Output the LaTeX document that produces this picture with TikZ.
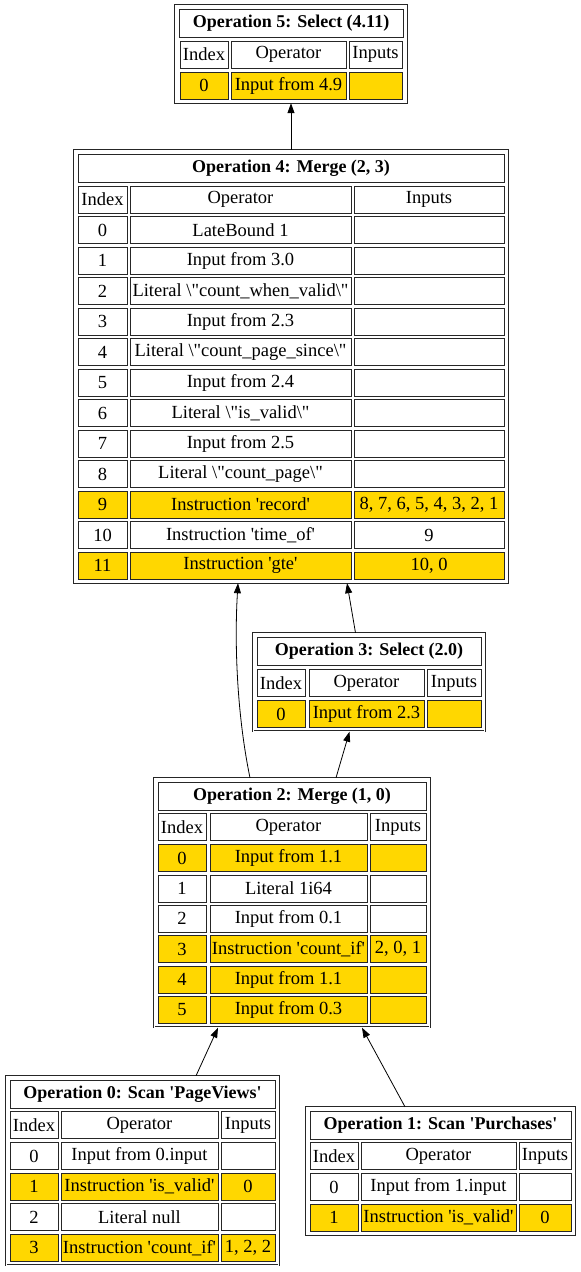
\documentclass[tikz,border=0pt]{standalone}
\usepackage{fontspec}
\setmainfont{Liberation Serif}[Ligatures=TeXOff]
\newfontfamily\opfont{Liberation Serif}[Ligatures=TeXOff]
\usepackage{xcolor}
\usetikzlibrary{fit,arrows.meta}
\definecolor{opgold}{HTML}{FFD700}

\begin{document}
\begin{tikzpicture}[x=1pt,y=-1pt,
    cell/.style={shape=rectangle, draw=black!85, line width=0.8pt, inner sep=0pt, minimum height=27pt, fill=white, font=\opfont\fontsize{18.5pt}{20pt}\selectfont},
    optitle/.style={cell, minimum height=28pt, font=\opfont\fontsize{18pt}{20pt}\selectfont\bfseries},
    opframe/.style={shape=rectangle, draw=black!85, double, double distance=0.9pt, line width=0.6pt, inner sep=3.5pt},
    flow/.style={line width=0.8pt, -{Triangle[length=10pt,width=7pt]}}]
    \useasboundingbox (0,0) rectangle (581,1272);

    % Operation 5
    \node[optitle, minimum width=224pt] (op5t) at (291,23) {Operation 5: Select (4.11)};
    \node[cell, minimum width=48pt] (op5hx) at (204,54.5) {Index};
    \node[cell, minimum width=115pt] (op5ho) at (288.5,54.5) {Operator};
    \node[cell, minimum width=53pt] (op5hn) at (375.5,54.5) {Inputs};
    \node[cell, fill=opgold, minimum width=48pt] (op5x0) at (204,85.5) {0};
    \node[cell, fill=opgold, minimum width=115pt] (op5o0) at (288.5,85.5) {Input from 4.9};
    \node[cell, fill=opgold, minimum width=53pt] (op5n0) at (375.5,85.5) {};
    \node[opframe, fit=(op5t)(op5x0)(op5n0)] (op5) {};

    % Operation 4
    \node[optitle, minimum width=426pt] (op4t) at (291,168) {Operation 4: Merge (2, 3)};
    \node[cell, minimum width=49pt] (op4hx) at (102.5,199.5) {Index};
    \node[cell, minimum width=221pt] (op4ho) at (240.5,199.5) {Operator};
    \node[cell, minimum width=150pt] (op4hn) at (429,199.5) {Inputs};
    \foreach \i/\op/\inp/\fc in {0/LateBound 1//white, 1/Input from 3.0//white,
        2/Literal \textbackslash"count\_when\_valid\textbackslash"//white, 3/Input from 2.3//white,
        4/Literal \textbackslash"count\_page\_since\textbackslash"//white, 5/Input from 2.4//white,
        6/Literal \textbackslash"is\_valid\textbackslash"//white, 7/Input from 2.5//white,
        8/Literal \textbackslash"count\_page\textbackslash"//white,
        9/Instruction 'record'/{8, 7, 6, 5, 4, 3, 2, 1}/opgold,
        10/Instruction 'time\_of'/9/white, 11/Instruction 'gte'/{10, 0}/opgold}{
      \node[cell, fill=\fc, minimum width=49pt] (op4x\i) at (102.5,{230+30.5*\i}) {\i};
      \node[cell, fill=\fc, minimum width=221pt] (op4o\i) at (240.5,{230+30.5*\i}) {\op};
      \node[cell, fill=\fc, minimum width=150pt] (op4n\i) at (429,{230+30.5*\i}) {\inp};
    }
    \node[opframe, fit=(op4t)(op4x11)(op4n11)] (op4) {};

    % Operation 3
    \node[optitle, minimum width=224pt] (op3t) at (369,651) {Operation 3: Select (2.0)};
    \node[cell, minimum width=48pt] (op3hx) at (281,683) {Index};
    \node[cell, minimum width=115pt] (op3ho) at (366.5,683) {Operator};
    \node[cell, minimum width=54pt] (op3hn) at (454,683) {Inputs};
    \node[cell, fill=opgold, minimum width=48pt] (op3x0) at (281,714) {0};
    \node[cell, fill=opgold, minimum width=115pt] (op3o0) at (366.5,714) {Input from 2.3};
    \node[cell, fill=opgold, minimum width=54pt] (op3n0) at (454,714) {};
    \node[opframe, fit=(op3t)(op3x0)(op3n0)] (op3) {};

    % Operation 2
    \node[optitle, minimum width=268pt] (op2t) at (292,796) {Operation 2: Merge (1, 0)};
    \node[cell, minimum width=48pt] (op2hx) at (182,827) {Index};
    \node[cell, minimum width=157pt] (op2ho) at (288.5,827) {Operator};
    \node[cell, minimum width=56pt] (op2hn) at (398,827) {Inputs};
    \foreach \i/\op/\inp/\fc in {0/Input from 1.1//opgold, 1/Literal 1i64//white,
        2/Input from 0.1//white, 3/Instruction 'count\_if'/{2, 0, 1}/opgold,
        4/Input from 1.1//opgold, 5/Input from 0.3//opgold}{
      \node[cell, fill=\fc, minimum width=48pt] (op2x\i) at (182,{858+30.4*\i}) {\i};
      \node[cell, fill=\fc, minimum width=157pt] (op2o\i) at (288.5,{858+30.4*\i}) {\op};
      \node[cell, fill=\fc, minimum width=56pt] (op2n\i) at (398,{858+30.4*\i}) {\inp};
    }
    \node[opframe, fit=(op2t)(op2x5)(op2n5)] (op2) {};

    % Operation 0
    \node[optitle, minimum width=265pt] (op0t) at (142.5,1094) {Operation 0: Scan 'PageViews'};
    \node[cell, minimum width=48pt] (op0hx) at (34,1125) {Index};
    \node[cell, minimum width=157pt] (op0ho) at (139.5,1125) {Operator};
    \node[cell, minimum width=54pt] (op0hn) at (248,1125) {Inputs};
    \foreach \i/\op/\inp/\fc in {0/Input from 0.input//white, 1/Instruction 'is\_valid'/0/opgold,
        2/Literal null//white, 3/Instruction 'count\_if'/{1, 2, 2}/opgold}{
      \node[cell, fill=\fc, minimum width=48pt] (op0x\i) at (34,{1156+30.6*\i}) {\i};
      \node[cell, fill=\fc, minimum width=157pt] (op0o\i) at (139.5,{1156+30.6*\i}) {\op};
      \node[cell, fill=\fc, minimum width=54pt] (op0n\i) at (248,{1156+30.6*\i}) {\inp};
    }
    \node[opframe, fit=(op0t)(op0x3)(op0n3)] (op0) {};

    % Operation 1
    \node[optitle, minimum width=261pt] (op1t) at (440.5,1125) {Operation 1: Scan 'Purchases'};
    \node[cell, minimum width=48pt] (op1hx) at (334,1156) {Index};
    \node[cell, minimum width=155pt] (op1ho) at (438.5,1156) {Operator};
    \node[cell, minimum width=52pt] (op1hn) at (545,1156) {Inputs};
    \foreach \i/\op/\inp/\fc in {0/Input from 1.input//white, 1/Instruction 'is\_valid'/0/opgold}{
      \node[cell, fill=\fc, minimum width=48pt] (op1x\i) at (334,{1187+30.5*\i}) {\i};
      \node[cell, fill=\fc, minimum width=155pt] (op1o\i) at (438.5,{1187+30.5*\i}) {\op};
      \node[cell, fill=\fc, minimum width=52pt] (op1n\i) at (545,{1187+30.5*\i}) {\inp};
    }
    \node[opframe, fit=(op1t)(op1x1)(op1n1)] (op1) {};

    % dependencies
    \draw[flow] (op4.north) -- (op5.south);
    \draw[flow] ([xshift=-13.5pt]op3.north) -- ([xshift=56pt]op4.south);
    \draw[flow] ([xshift=-42pt]op2.north) .. controls (238,720) and (234,650) .. ([xshift=-53pt]op4.south);
    \draw[flow] ([xshift=44pt]op2.north) -- ([xshift=-19.5pt]op3.south);
    \draw[flow] ([xshift=53.5pt]op0.north) -- ([xshift=-74pt]op2.south);
    \draw[flow] ([xshift=-35.5pt]op1.north) -- ([xshift=70pt]op2.south);
  \end{tikzpicture}
\end{document}
